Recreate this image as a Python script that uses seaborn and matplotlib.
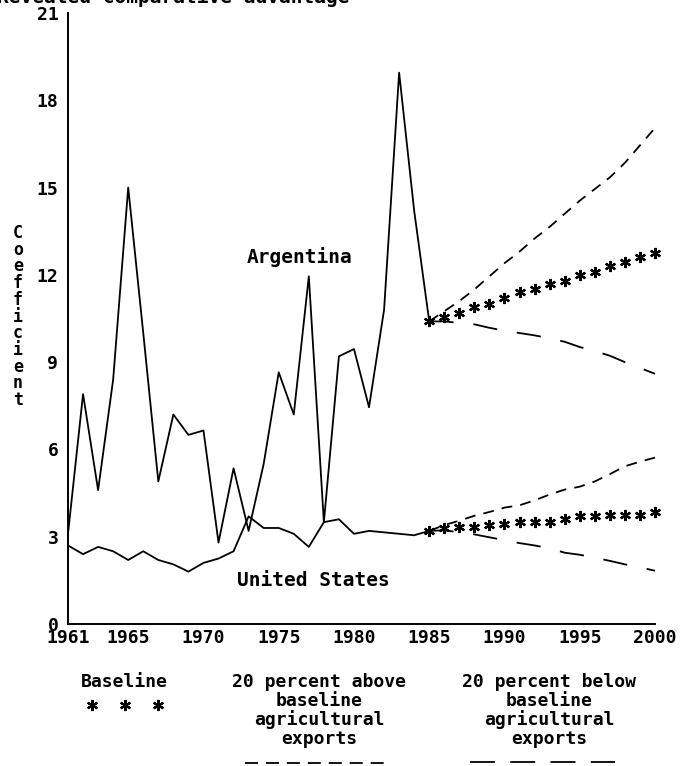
import numpy as np
import pandas as pd
import seaborn as sns
import matplotlib.pyplot as plt
from matplotlib.lines import Line2D

# historical coefficients, 1961-1985
years_hist = list(range(1961, 1986))
argentina = [3.1, 7.9, 4.6, 8.4, 15.0, 10.0, 4.9, 7.2, 6.5, 6.65, 2.8, 5.35, 3.2,
             5.5, 8.65, 7.2, 11.95, 3.5, 9.2, 9.45, 7.45, 10.8, 18.95, 14.2, 10.4]
united_states = [2.7, 2.4, 2.65, 2.5, 2.2, 2.5, 2.2, 2.05, 1.8, 2.1, 2.25, 2.5, 3.7,
                 3.3, 3.3, 3.1, 2.65, 3.5, 3.6, 3.1, 3.2, 3.15, 3.1, 3.05, 3.2]

# projections, 1985-2000
years_proj = list(range(1985, 2001))
arg_base = [10.4, 10.55, 10.7, 10.9, 11.0, 11.2, 11.4, 11.5, 11.7, 11.8, 12.0, 12.1,
            12.3, 12.45, 12.6, 12.75]
arg_high = [10.4, 10.75, 11.1, 11.5, 11.95, 12.4, 12.8, 13.25, 13.65, 14.1, 14.55,
            14.95, 15.35, 15.85, 16.45, 17.05]
arg_low = [10.4, 10.4, 10.35, 10.3, 10.18, 10.08, 10.0, 9.92, 9.82, 9.7, 9.52, 9.38,
           9.22, 9.0, 8.8, 8.6]
us_base = [3.2, 3.3, 3.32, 3.35, 3.4, 3.42, 3.5, 3.52, 3.52, 3.62, 3.7, 3.72, 3.74,
           3.75, 3.76, 3.85]
us_high = [3.2, 3.4, 3.55, 3.72, 3.85, 4.0, 4.08, 4.25, 4.45, 4.62, 4.72, 4.9, 5.15,
           5.42, 5.58, 5.72]
us_low = [3.2, 3.22, 3.15, 3.08, 2.98, 2.88, 2.78, 2.7, 2.6, 2.45, 2.38, 2.28, 2.17,
          2.05, 1.95, 1.83]

xtick_labels = [1961, 1965, 1970, 1975, 1980, 1985, 1990, 1995, 2000]
ytick_labels = [0, 3, 6, 9, 12, 15, 18, 21]

sns.set_style("white")
plt.rcParams['font.family'] = ['DejaVu Sans Mono', 'DejaVu Sans']
plt.rcParams['font.weight'] = 'bold'
plt.rcParams['text.color'] = 'k'
plt.rcParams['xtick.labelcolor'] = 'k'
plt.rcParams['ytick.labelcolor'] = 'k'

W, H = 697, 766
fig = plt.figure(figsize=(W / 100, H / 100), dpi=100)
ax = fig.add_axes([68 / W, 1 - 624 / H, (655 - 68) / W, (624 - 13) / H])

lw = 1.3
short_dash = (0, (6.0, 4.5))
long_dash = (0, (13.5, 11.0))
star = (6, 2, 0)

hist = pd.DataFrame({'year': years_hist, 'Argentina': argentina,
                     'United States': united_states})
sns.lineplot(data=hist, x='year', y='Argentina', color='k', lw=lw, ax=ax)
sns.lineplot(data=hist, x='year', y='United States', color='k', lw=lw, ax=ax)

proj = pd.DataFrame({'year': years_proj, 'arg_base': arg_base, 'arg_high': arg_high,
                     'arg_low': arg_low, 'us_base': us_base, 'us_high': us_high,
                     'us_low': us_low})
for col in ['arg_high', 'us_high']:
    sns.lineplot(data=proj, x='year', y=col, color='k', lw=lw, linestyle=short_dash,
                 clip_on=False, ax=ax)
for col in ['arg_low', 'us_low']:
    sns.lineplot(data=proj, x='year', y=col, color='k', lw=lw, linestyle=long_dash,
                 clip_on=False, ax=ax)
for col in ['arg_base', 'us_base']:
    sns.lineplot(data=proj, x='year', y=col, color='k', linestyle='', marker=star,
                 markersize=8, markeredgewidth=1.6, markeredgecolor='k',
                 clip_on=False, ax=ax)

ax.set_xlim(1961, 2000)
ax.set_ylim(0, 21)
ax.set_xlabel('')
ax.set_ylabel('')
for s in ['top', 'right']:
    ax.spines[s].set_visible(False)
for s in ['left', 'bottom']:
    ax.spines[s].set_linewidth(1.4)
    ax.spines[s].set_color('k')

ax.set_xticks(xtick_labels)
ax.set_xticklabels([str(y) for y in xtick_labels])
ax.set_xticks(range(1961, 2001), minor=True)
ax.set_yticks(ytick_labels)
ax.set_yticklabels([str(v) for v in ytick_labels])
ax.set_yticks(np.arange(1.5, 21, 3), minor=True)

ax.tick_params(axis='x', which='both', direction='inout', length=6, width=1.3,
               labelsize=13, pad=0.5, color='k')
ax.tick_params(axis='y', which='major', direction='inout', length=6, width=1.3,
               labelsize=13, pad=4, color='k')
ax.tick_params(axis='y', which='minor', direction='inout', length=3, width=1.3, color='k')
for t in ax.get_xticklines() + ax.get_yticklines():
    t.set_clip_on(False)

ax.text(1976.4, 12.6, 'Argentina', fontsize=14, ha='center', va='center')
ax.text(1977.3, 1.5, 'United States', fontsize=14, ha='center', va='center')

# stacked y label
for i, ch in enumerate('Coefficient'):
    fig.text(18 / W, 1 - (233 + i * 16.7) / H, ch, fontsize=12, ha='center', va='center')

# clipped heading at the very top
fig.text(-0.004, 1 - 3 / H, 'Revealed comparative advantage', fontsize=14,
         ha='left', va='baseline')

# legend below the axis
fig.text(124 / W, 1 - 682 / H, 'Baseline', fontsize=13, ha='center', va='center')
fig.add_artist(Line2D([92 / W, 125 / W, 158 / W], [1 - 705 / H] * 3, transform=fig.transFigure,
                      color='k', linestyle='', marker=star, markersize=8,
                      markeredgewidth=1.6))

fig.text(319 / W, 1 - 682 / H, '20 percent above', fontsize=13, ha='center', va='center')
fig.text(549 / W, 1 - 682 / H, '20 percent below', fontsize=13, ha='center', va='center')
for cx in [319, 549]:
    fig.text(cx / W, 1 - 701 / H, 'baseline', fontsize=13, ha='center', va='center')
    fig.text(cx / W, 1 - 720 / H, 'agricultural', fontsize=13, ha='center', va='center')
    fig.text(cx / W, 1 - 739 / H, 'exports', fontsize=13, ha='center', va='center')

fig.add_artist(Line2D([245 / W, 390 / W], [1 - 763 / H] * 2, transform=fig.transFigure,
                      color='k', lw=lw, linestyle=(0, (7.2, 4.4))))
fig.add_artist(Line2D([470 / W, 615 / W], [1 - 762 / H] * 2, transform=fig.transFigure,
                      color='k', lw=lw, linestyle=(0, (13.8, 8.5))))

fig.savefig('out.png', dpi=100)
